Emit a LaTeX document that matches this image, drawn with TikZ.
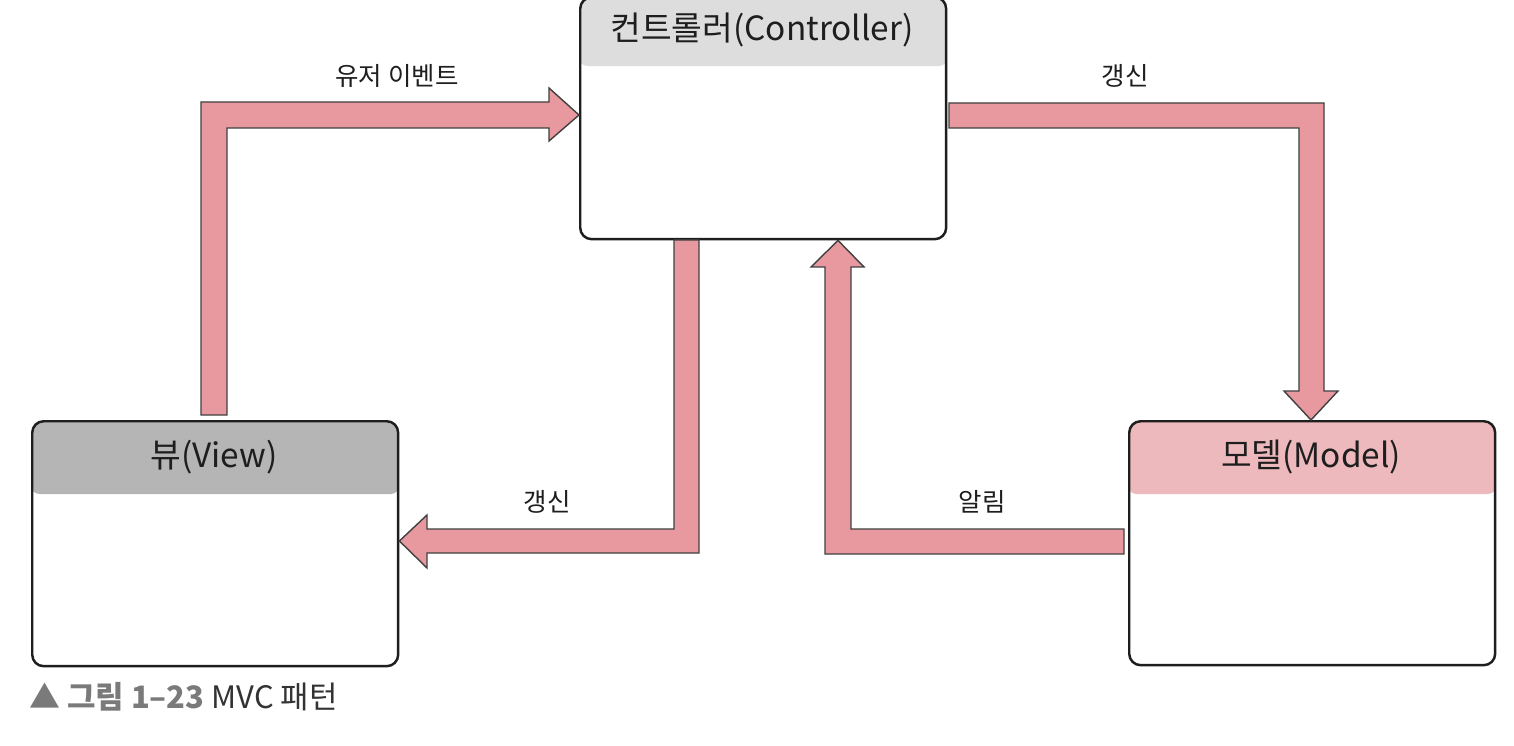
\documentclass[tikz,border=0pt]{standalone}
\usepackage{fontspec}
\setmainfont{Noto Sans CJK KR}
\newfontfamily\kr{Noto Sans CJK KR}
\usetikzlibrary{calc}
\definecolor{arrowpink}{HTML}{E8999F}
\definecolor{ctrlhead}{HTML}{DDDDDD}
\definecolor{viewhead}{HTML}{B5B5B5}
\definecolor{modelhead}{HTML}{EDB9BD}
\definecolor{boxline}{HTML}{1E1E1E}
\definecolor{txt}{HTML}{1E1E1E}
\definecolor{capgray}{HTML}{7A7A7A}
\definecolor{capdark}{HTML}{333333}
\tikzset{
  box/.style={draw=boxline, line width=1.4pt, rounded corners=6.5pt, fill=white, inner sep=0pt, anchor=north west},
  header/.style 2 args={path picture={\fill[#1] ($(path picture bounding box.north west)+(-3,-3)$) rectangle ($(path picture bounding box.north east)+(3,#2)$);}},
  title/.style={font=\kr\fontsize{19}{21}\selectfont, text=txt, inner sep=0pt},
  lbl/.style={font=\kr\fontsize{14.5}{16}\selectfont, text=txt, inner sep=0pt},
  blockarrow/.style={fill=arrowpink, draw=boxline!85, line width=0.8pt, line join=miter}
}
\begin{document}
\begin{tikzpicture}[x=0.02cm,y=-0.02cm]
\useasboundingbox (0,0) rectangle (1514,746);
\fill[white] (0,0) rectangle (1514,746);

% boxes
\node[box, header={ctrlhead}{69}, minimum width=7.32cm, minimum height=4.84cm] (ctrl) at (579,-4) {};
\node[box, header={viewhead}{73}, minimum width=7.32cm, minimum height=4.9cm] (view) at (31,420) {};
\node[box, header={modelhead}{73}, minimum width=7.32cm, minimum height=4.88cm] (model) at (1128,420) {};

% titles
\node[title] (ctrlT) at (762,30) {컨트롤러(Controller)};
\node[title] (viewT) at (214,457) {뷰(View)};
\node[title] (modelT) at (1311,457) {모델(Model)};

% user event: view -> controller
\draw[blockarrow] (201,415) -- (201,102) -- (549,102) -- (549,88) -- (ctrl.west |- 0,115) -- (549,141) -- (549,128) -- (227,128) -- (227,415) -- cycle;
\node[lbl] (lblUser) at (397,76) {유저 이벤트};

% update: controller -> model
\draw[blockarrow] (949,103) -- (1324,103) -- (1324,391) -- (1338,391) -- (model.north -| 1311,0) -- (1284,391) -- (1299,391) -- (1299,128) -- (949,128) -- cycle;
\node[lbl] (lblUpd1) at (1125,76) {갱신};

% update: controller -> view
\draw[blockarrow] (674,240) -- (699,240) -- (699,553) -- (427,553) -- (427,568) -- (view.east |- 0,541) -- (427,515) -- (427,529) -- (674,529) -- cycle;
\node[lbl] (lblUpd2) at (547,502) {갱신};

% notify: model -> controller
\draw[blockarrow] (825,554) -- (825,267) -- (811,267) -- (ctrl.south -| 838,0) -- (864,267) -- (851,267) -- (851,529) -- (1124,529) -- (1124,554) -- cycle;
\node[lbl] (lblNot) at (982,502) {알림};

% caption
\node[anchor=west, inner sep=0pt, font=\kr\fontsize{17.6}{20}\selectfont] (cap) at (29,697) {\textcolor{capgray}{▲ \bfseries 그림 1–23} \textcolor{capdark}{MVC 패턴}};
\end{tikzpicture}
\end{document}
